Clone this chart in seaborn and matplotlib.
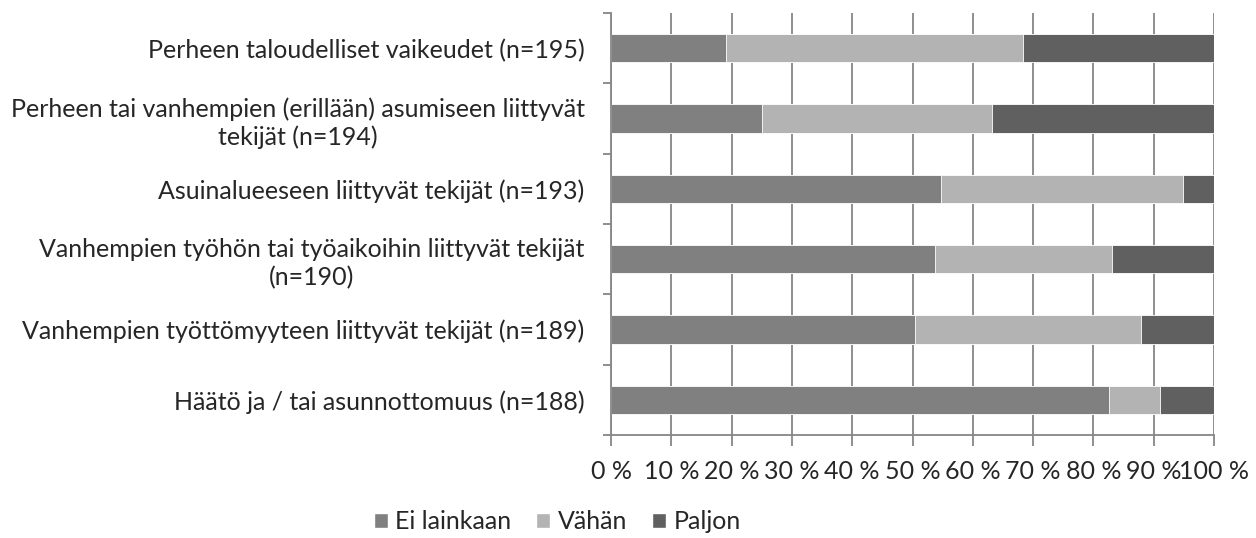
import matplotlib
matplotlib.use("Agg")
import matplotlib.pyplot as plt
import seaborn as sns
import pandas as pd
from matplotlib.patches import Patch

# data (percent of respondents)
categories = [
    "Perheen taloudelliset vaikeudet (n=195)",
    "Perheen tai vanhempien (erillään) asumiseen liittyvät\ntekijät (n=194)",
    "Asuinalueeseen liittyvät tekijät (n=193)",
    "Vanhempien työhön tai työaikoihin liittyvät tekijät\n(n=190)",
    "Vanhempien työttömyyteen liittyvät tekijät (n=189)",
    "Häätö ja / tai asunnottomuus (n=188)",
]
ei_lainkaan = [19.0, 25.0, 54.8, 53.7, 50.4, 82.5]
vahan = [49.3, 38.2, 40.0, 29.4, 37.5, 8.5]
paljon = [31.7, 36.8, 5.2, 16.9, 12.1, 9.0]
series = ["Ei lainkaan", "Vähän", "Paljon"]
colors = ["#808080", "#b3b3b3", "#606060"]
xticks = list(range(0, 101, 10))

df = pd.DataFrame({"cat": categories, "ei": ei_lainkaan, "vahan": vahan, "paljon": paljon})
df["c1"] = df["ei"]
df["c2"] = df["ei"] + df["vahan"]
df["c3"] = df["c2"] + df["paljon"]

sns.set_style("white")
plt.rcParams["font.family"] = ["Lato", "DejaVu Sans"]

fig = plt.figure(figsize=(12.56, 5.38), dpi=100)
ax = fig.add_axes([0.4865, 0.1914, 0.4801, 0.7844])

# stacked by drawing cumulative totals back to front
for col, c in zip(["c3", "c2", "c1"], colors[::-1]):
    sns.barplot(data=df, x=col, y="cat", orient="h", color=c, width=0.4,
                saturation=1, edgecolor="white", linewidth=0.6, ax=ax)

ax.set_xlim(0, 100)
ax.set_ylim(5.5, -0.5)
ax.set_xticks(xticks)
ax.set_xticklabels([f"{t} %" for t in xticks], fontsize=18)
ax.set_xlabel("")
ax.set_ylabel("")
ax.xaxis.grid(True, color="#868686", linewidth=1.3)
ax.set_axisbelow(True)

ax.set_yticks([i + 0.5 for i in range(-1, 6)], minor=True)
ax.tick_params(axis="y", which="minor", length=6, width=1.3, color="#868686", direction="out", left=True)
ax.tick_params(axis="y", which="major", length=0, pad=19, labelsize=18)
ax.tick_params(axis="x", length=8, width=1.3, color="#868686", direction="out", bottom=True, pad=10)
for lbl in ax.get_yticklabels():
    lbl.set_multialignment("center")
    lbl.set_linespacing(1.25)

for s in ["top", "right"]:
    ax.spines[s].set_visible(False)
for s in ["left", "bottom"]:
    ax.spines[s].set_color("#868686")
    ax.spines[s].set_linewidth(1.3)

handles = [Patch(facecolor=c, label=s) for s, c in zip(series, colors)]
fig.legend(handles=handles, loc="center", bbox_to_anchor=(0.4437, 0.03), ncol=3, frameon=False,
           fontsize=18, handlelength=0.55, handleheight=0.55, handletextpad=0.3, columnspacing=1.0)

plt.savefig("out.png", dpi=100)
